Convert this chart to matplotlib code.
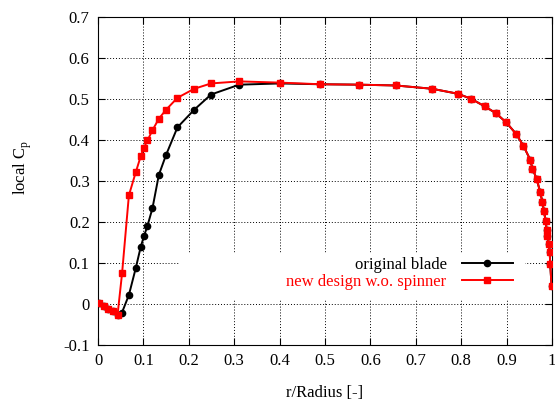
import matplotlib
matplotlib.use("Agg")
import matplotlib.pyplot as plt
from matplotlib.patches import Rectangle

plt.rcParams['font.family'] = ['Liberation Serif', 'DejaVu Serif']
plt.rcParams['mathtext.fontset'] = 'custom'
plt.rcParams['mathtext.rm'] = 'Liberation Serif'

# 元の翼 (original blade)
r_orig = [0.003, 0.013, 0.023, 0.032, 0.043, 0.052, 0.068, 0.083, 0.094, 0.101,
          0.109, 0.120, 0.134, 0.150, 0.175, 0.212, 0.249, 0.311, 0.401, 0.490,
          0.575, 0.656, 0.736, 0.792, 0.821, 0.852, 0.877, 0.899, 0.921, 0.937,
          0.952, 0.957, 0.966, 0.974, 0.979, 0.982, 0.986, 0.988, 0.990, 0.993,
          0.995, 0.996, 0.999]
cp_orig = [0.002, -0.004, -0.011, -0.016, -0.027, -0.023, 0.022, 0.087, 0.139, 0.165,
           0.191, 0.234, 0.315, 0.364, 0.431, 0.474, 0.511, 0.535, 0.538, 0.536,
           0.535, 0.533, 0.525, 0.513, 0.501, 0.482, 0.465, 0.443, 0.415, 0.386,
           0.352, 0.330, 0.306, 0.273, 0.248, 0.228, 0.203, 0.181, 0.165, 0.147,
           0.126, 0.098, 0.045]

# 新しい設計 (new design w.o. spinner)
r_new = [0.003, 0.013, 0.023, 0.032, 0.043, 0.053, 0.068, 0.083, 0.094, 0.101,
         0.109, 0.120, 0.134, 0.150, 0.175, 0.212, 0.249, 0.311, 0.401, 0.490,
         0.575, 0.656, 0.736, 0.792, 0.821, 0.852, 0.877, 0.899, 0.921, 0.937,
         0.952, 0.957, 0.966, 0.974, 0.979, 0.982, 0.986, 0.988, 0.990, 0.993,
         0.995, 0.996, 0.999]
cp_new = [0.002, -0.004, -0.011, -0.016, -0.027, 0.075, 0.265, 0.321, 0.360, 0.381,
          0.399, 0.424, 0.452, 0.474, 0.503, 0.525, 0.538, 0.543, 0.540, 0.536,
          0.535, 0.533, 0.525, 0.513, 0.501, 0.482, 0.465, 0.443, 0.415, 0.386,
          0.352, 0.330, 0.306, 0.273, 0.248, 0.228, 0.203, 0.181, 0.165, 0.147,
          0.126, 0.098, 0.045]

x_ticks = [0, 0.1, 0.2, 0.3, 0.4, 0.5, 0.6, 0.7, 0.8, 0.9, 1]
x_labels = ['0', '0.1', '0.2', '0.3', '0.4', '0.5', '0.6', '0.7', '0.8', '0.9', '1']
y_ticks = [-0.1, 0, 0.1, 0.2, 0.3, 0.4, 0.5, 0.6, 0.7]
y_labels = ['-0.1', '0', '0.1', '0.2', '0.3', '0.4', '0.5', '0.6', '0.7']

fig = plt.figure(figsize=(5.55, 4.05), dpi=100)
ax = fig.add_axes([0.1766, 0.148, 0.818, 0.810])

ax.plot(r_orig, cp_orig, color='black', lw=1.4, marker='o', ms=4.5, label='original blade', zorder=3)
ax.plot(r_new, cp_new, color='red', lw=1.4, marker='s', ms=4.2, label='new design w.o. spinner', zorder=3)

# 凡例の背景 (gnuplot風に白い箱でグリッドを隠す)
ax.add_patch(Rectangle((0.181, 0.137), 0.759, 0.143, transform=ax.transAxes,
                       facecolor='white', edgecolor='none', zorder=1))

ax.set_xlim(0, 1)
ax.set_ylim(-0.1, 0.7)
ax.set_xticks(x_ticks)
ax.set_xticklabels(x_labels)
ax.set_yticks(y_ticks)
ax.set_yticklabels(y_labels)
ax.tick_params(direction='in', top=True, right=True, length=5, labelsize=12, pad=6)
ax.grid(True, color='black', ls=(0, (1, 2)), lw=0.7)
ax.set_axisbelow(True)

ax.set_xlabel('r/Radius [-]', fontsize=12, labelpad=11.5)
ax.set_ylabel(r'local C$_\mathrm{p}$', fontsize=12)
ax.yaxis.set_label_coords(-0.14, 0.54)

leg = ax.legend(loc='upper right', bbox_to_anchor=(0.944, 0.31), markerfirst=False,
                fontsize=12, handlelength=3.1, frameon=False,
                borderpad=0.3, labelspacing=0.05, handletextpad=0.9)
leg.get_texts()[1].set_color('red')

fig.savefig('out.png', dpi=100)
